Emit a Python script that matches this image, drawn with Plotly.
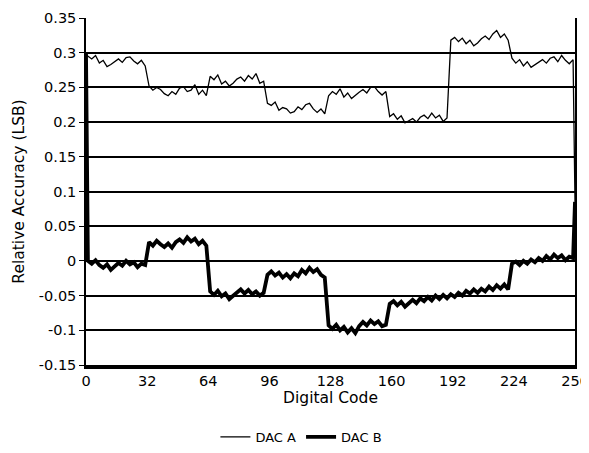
import plotly.graph_objects as go

# Digital codes: 0, odd codes 1..255, and 256
codes = [0] + list(range(1, 256, 2)) + [256]

dac_a = [0.297,
    0.295, 0.291, 0.296, 0.285, 0.289, 0.280, 0.283, 0.287, 0.291, 0.286, 0.293, 0.294, 0.288, 0.284, 0.289, 0.281,
    0.252, 0.246, 0.250, 0.247, 0.241, 0.238, 0.244, 0.240, 0.249, 0.251, 0.244, 0.246, 0.254, 0.240, 0.246, 0.238,
    0.266, 0.261, 0.268, 0.255, 0.259, 0.252, 0.256, 0.262, 0.265, 0.259, 0.267, 0.262, 0.270, 0.256, 0.259, 0.227,
    0.224, 0.229, 0.217, 0.221, 0.219, 0.213, 0.215, 0.222, 0.218, 0.225, 0.227, 0.219, 0.214, 0.219, 0.212, 0.238,
    0.244, 0.240, 0.248, 0.236, 0.242, 0.234, 0.239, 0.243, 0.247, 0.242, 0.250, 0.251, 0.244, 0.239, 0.244, 0.208,
    0.212, 0.204, 0.209, 0.199, 0.202, 0.205, 0.200, 0.207, 0.210, 0.205, 0.213, 0.206, 0.210, 0.201, 0.206, 0.318,
    0.322, 0.316, 0.321, 0.313, 0.318, 0.310, 0.314, 0.320, 0.324, 0.319, 0.327, 0.332, 0.322, 0.327, 0.318, 0.292,
    0.285, 0.290, 0.281, 0.287, 0.279, 0.283, 0.286, 0.290, 0.285, 0.292, 0.294, 0.287, 0.296, 0.289, 0.284, 0.290,
    0.085]

dac_b = [0.300,
    0.000, -0.004, 0.001, -0.006, -0.010, -0.005, -0.013, -0.008, -0.003, -0.007, 0.000, -0.005, -0.002, -0.009, -0.004, -0.006,
    0.027, 0.022, 0.029, 0.024, 0.020, 0.025, 0.019, 0.027, 0.031, 0.026, 0.034, 0.028, 0.032, 0.024, 0.029, 0.022,
    -0.044, -0.049, -0.043, -0.051, -0.047, -0.055, -0.050, -0.046, -0.041, -0.047, -0.042, -0.048, -0.044, -0.050, -0.046, -0.020,
    -0.015, -0.021, -0.017, -0.024, -0.019, -0.025, -0.018, -0.022, -0.013, -0.018, -0.010, -0.016, -0.012, -0.020, -0.024, -0.093,
    -0.098, -0.092, -0.100, -0.095, -0.103, -0.097, -0.104, -0.094, -0.088, -0.093, -0.086, -0.091, -0.087, -0.094, -0.092, -0.062,
    -0.058, -0.064, -0.059, -0.066, -0.061, -0.056, -0.061, -0.054, -0.058, -0.052, -0.057, -0.050, -0.055, -0.049, -0.054, -0.048,
    -0.052, -0.046, -0.050, -0.043, -0.047, -0.041, -0.046, -0.040, -0.044, -0.037, -0.042, -0.035, -0.040, -0.034, -0.041, -0.004,
    -0.001, -0.006, 0.000, -0.004, 0.002, -0.002, 0.004, 0.000, 0.007, 0.002, 0.009, 0.004, 0.008, 0.001, 0.006, 0.004,
    0.085]

x_ticks = [0, 32, 64, 96, 128, 160, 192, 224, 256]
y_ticks = [0.35, 0.3, 0.25, 0.2, 0.15, 0.1, 0.05, 0, -0.05, -0.1, -0.15]
y_tick_labels = ["0.35", "0.3", "0.25", "0.2", "0.15", "0.1", "0.05", "0", "-0.05", "-0.1", "-0.15"]

font = "DejaVu Sans, Liberation Sans, Arial, sans-serif"

fig = go.Figure()
fig.add_trace(go.Scatter(x=codes, y=dac_a, mode="lines", name="DAC A",
                         line=dict(color="black", width=1.3)))
fig.add_trace(go.Scatter(x=codes, y=dac_b, mode="lines", name="DAC B",
                         line=dict(color="black", width=3.8)))

# page body has an 8px margin, so the figure is sized to fit inside the window
fig.update_layout(
    width=581, height=445,
    margin=dict(l=78, r=14, t=10, b=88, autoexpand=False),
    paper_bgcolor="white", plot_bgcolor="white",
    font=dict(family=font, size=14, color="black"),
    showlegend=True,
    legend=dict(orientation="h", xref="container", x=0.505, xanchor="center",
                yref="container", y=0.036, yanchor="middle",
                font=dict(size=13), itemwidth=30, tracegroupgap=0),
    xaxis=dict(range=[0, 256], tickvals=x_ticks, ticktext=[str(v) for v in x_ticks],
               showgrid=False, zeroline=False, showline=True, linecolor="black",
               linewidth=4, ticks="", tickfont=dict(size=14.5), automargin=False,
               title=dict(text="Digital Code", font=dict(size=15.5), standoff=0)),
    yaxis=dict(range=[-0.15, 0.35], tickvals=y_ticks, ticktext=y_tick_labels,
               showgrid=True, gridcolor="black", gridwidth=1.5, zeroline=False,
               showline=True, mirror=True, linecolor="black", linewidth=1.5,
               ticks="outside", ticklen=5, tickcolor="black", tickfont=dict(size=14.5),
               automargin=False,
               title=dict(text="Relative Accuracy (LSB)", font=dict(size=15.5), standoff=10)),
)

fig.write_html("out.html")
